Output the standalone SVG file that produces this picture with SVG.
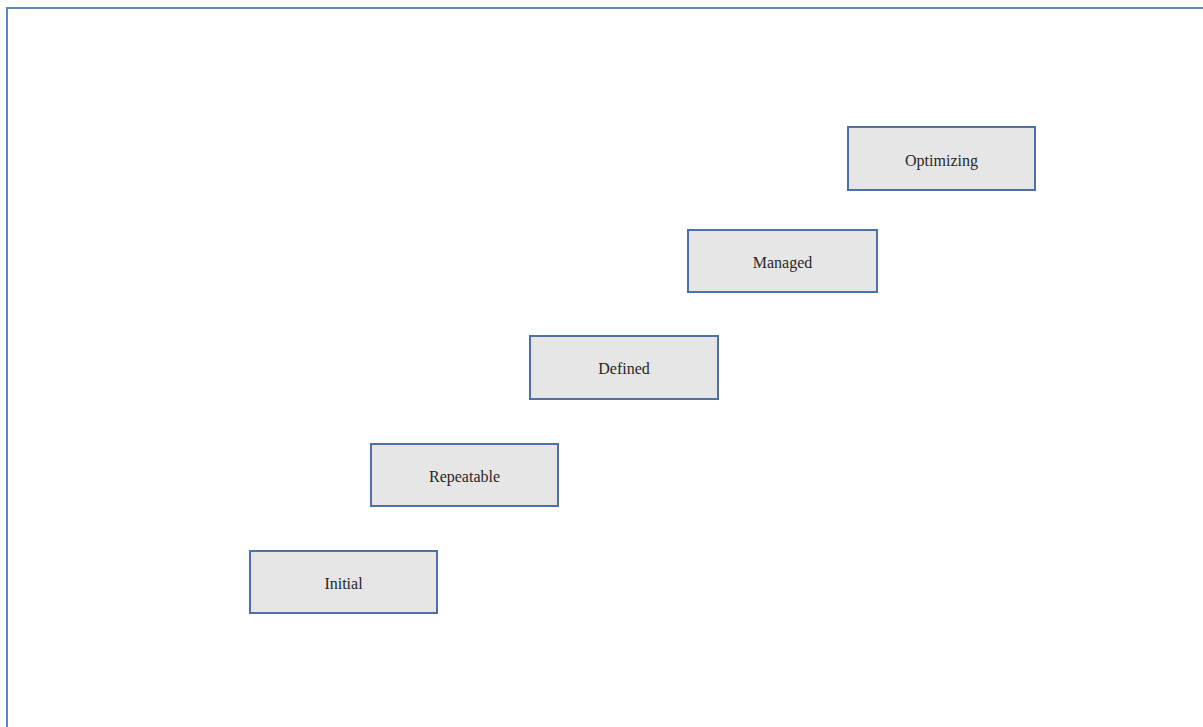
<svg xmlns="http://www.w3.org/2000/svg" width="1203" height="727" viewBox="0 0 1203 727">
  <style>
    .step rect { fill: #e6e6e6; stroke: #4f6fa8; stroke-width: 2; }
    .step text { font-family: "Liberation Serif", "Times New Roman", serif; font-size: 16px; fill: #262626; text-anchor: middle; dominant-baseline: central; }
    .frame { fill: none; stroke: #5b87c5; stroke-width: 2; }
  </style>
  <rect width="1203" height="727" fill="#ffffff"/>
  <!-- page frame: only top and left edges fall inside the view -->
  <path class="frame" d="M7,727 V8 H1203"/>
  <g id="initial" class="step">
    <rect x="250" y="551" width="187" height="62"/>
    <text x="343.5" y="583">Initial</text>
  </g>
  <g id="repeatable" class="step">
    <rect x="371" y="444" width="187" height="62"/>
    <text x="464.5" y="476">Repeatable</text>
  </g>
  <g id="defined" class="step">
    <rect x="530" y="336" width="188" height="63"/>
    <text x="624" y="368">Defined</text>
  </g>
  <g id="managed" class="step">
    <rect x="688" y="230" width="189" height="62"/>
    <text x="782.5" y="262">Managed</text>
  </g>
  <g id="optimizing" class="step">
    <rect x="848" y="127" width="187" height="63"/>
    <text x="941.5" y="160">Optimizing</text>
  </g>
  <g id="connectors"/>
</svg>
